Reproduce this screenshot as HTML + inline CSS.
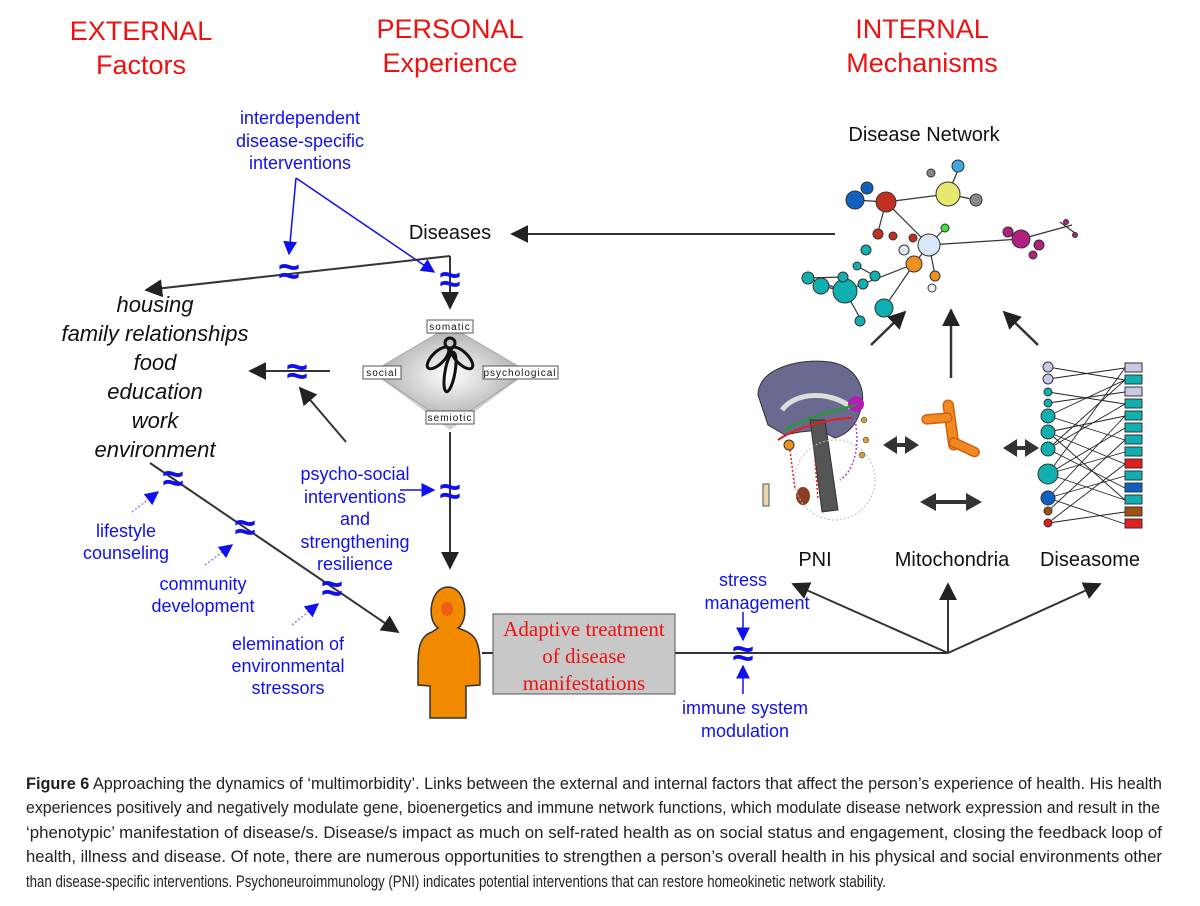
<!DOCTYPE html>
<html><head><meta charset="utf-8"><style>
html,body{margin:0;padding:0;background:#fff;}
svg{display:block;font-family:"Liberation Sans",sans-serif;}
</style></head><body>
<svg width="1200" height="906" viewBox="0 0 1200 906" xmlns="http://www.w3.org/2000/svg">
<defs>
<marker id="akb" viewBox="0 0 10 10" markerWidth="18" markerHeight="18" refX="9" refY="5" orient="auto" markerUnits="userSpaceOnUse"><path d="M0,0 L10,5 L0,10 z" fill="#222"/></marker>
<marker id="ab" viewBox="0 0 10 10" markerWidth="14" markerHeight="14" refX="9" refY="5" orient="auto" markerUnits="userSpaceOnUse"><path d="M0,0 L10,5 L0,10 z" fill="#1010ee"/></marker>
<radialGradient id="dg" cx="0.5" cy="0.5" r="0.6"><stop offset="0" stop-color="#fff"/><stop offset="1" stop-color="#999"/></radialGradient>
</defs>

<g fill="#ee1111" font-size="27" text-anchor="middle">
<text x="141" y="40">EXTERNAL</text><text x="141" y="74">Factors</text>
<text x="450" y="38">PERSONAL</text><text x="450" y="72">Experience</text>
<text x="922" y="38">INTERNAL</text><text x="922" y="72">Mechanisms</text>
</g>

<g fill="#1010ee" font-size="18" text-anchor="middle">
<text x="300" y="124">interdependent</text><text x="300" y="147">disease-specific</text><text x="300" y="169">interventions</text>
</g>
<line x1="296" y1="178" x2="289" y2="254" stroke="#1010ee" stroke-width="1.5" marker-end="url(#ab)"/>
<line x1="296" y1="178" x2="434" y2="272" stroke="#1010ee" stroke-width="1.5" marker-end="url(#ab)"/>

<text x="450" y="239" font-size="20" text-anchor="middle" fill="#111">Diseases</text>
<line x1="835" y1="234" x2="512" y2="234" stroke="#333" stroke-width="2" marker-end="url(#akb)"/>

<line x1="450" y1="256" x2="146" y2="290" stroke="#333" stroke-width="2" marker-end="url(#akb)"/>
<line x1="450" y1="256" x2="450" y2="308" stroke="#333" stroke-width="2" marker-end="url(#akb)"/>
<g fill="#1010ee" font-size="38" font-weight="bold" text-anchor="middle">
<text x="289" y="284">≈</text><text x="450" y="292">≈</text>
</g>

<polygon points="450,326 528,372 450,424 372,372" fill="url(#dg)" stroke="#aaa"/>
<polygon points="372,372 450,424 528,372 450,430" fill="#888" opacity="0.4"/>
<g fill="none" stroke="#111" stroke-width="3">
<ellipse cx="438" cy="358" rx="6" ry="14" transform="rotate(45 438 358)"/>
<ellipse cx="462" cy="358" rx="6" ry="14" transform="rotate(-45 462 358)"/>
<ellipse cx="450" cy="372" rx="5" ry="20" transform="rotate(10 450 372)"/>
<circle cx="450" cy="343" r="5"/>
</g>
<g font-size="10" letter-spacing="1" text-anchor="middle" fill="#111">
<rect x="427" y="320" width="46" height="13" fill="#fff" stroke="#555"/><text x="450" y="330">somatic</text>
<rect x="363" y="366" width="38" height="13" fill="#fff" stroke="#555"/><text x="382" y="376">social</text>
<rect x="483" y="366" width="75" height="13" fill="#fff" stroke="#555"/><text x="520" y="376">psychological</text>
<rect x="426" y="411" width="48" height="13" fill="#fff" stroke="#555"/><text x="450" y="421">semiotic</text>
</g>

<line x1="450" y1="432" x2="450" y2="568" stroke="#333" stroke-width="2" marker-end="url(#akb)"/>
<line x1="330" y1="371" x2="250" y2="371" stroke="#333" stroke-width="2" marker-end="url(#akb)"/>
<line x1="346" y1="442" x2="300" y2="388" stroke="#333" stroke-width="2" marker-end="url(#akb)"/>
<line x1="400" y1="490" x2="434" y2="490" stroke="#1010ee" stroke-width="1.5" marker-end="url(#ab)"/>
<g fill="#1010ee" font-size="38" font-weight="bold" text-anchor="middle">
<text x="297" y="384">≈</text><text x="450" y="504">≈</text>
</g>
<g fill="#1010ee" font-size="18" text-anchor="middle">
<text x="355" y="480">psycho-social</text><text x="355" y="503">interventions</text><text x="355" y="525">and</text><text x="355" y="548">strengthening</text><text x="355" y="570">resilience</text>
</g>

<g font-size="22" font-style="italic" text-anchor="middle" fill="#111">
<text x="155" y="312">housing</text><text x="155" y="341">family relationships</text><text x="155" y="370">food</text><text x="155" y="399">education</text><text x="155" y="428">work</text><text x="155" y="457">environment</text>
</g>
<line x1="150" y1="463" x2="398" y2="632" stroke="#333" stroke-width="2" marker-end="url(#akb)"/>
<g fill="#1010ee" font-size="38" font-weight="bold" text-anchor="middle">
<text x="173" y="491">≈</text><text x="245" y="540">≈</text><text x="332" y="601">≈</text>
</g>
<g stroke="#8888ff" stroke-width="1.5" stroke-dasharray="2,2">
<line x1="132" y1="512" x2="158" y2="492" marker-end="url(#ab)"/>
<line x1="205" y1="565" x2="232" y2="545" marker-end="url(#ab)"/>
<line x1="292" y1="625" x2="318" y2="604" marker-end="url(#ab)"/>
</g>
<g fill="#1010ee" font-size="18" text-anchor="middle">
<text x="126" y="537">lifestyle</text><text x="126" y="559">counseling</text>
<text x="203" y="590">community</text><text x="203" y="612">development</text>
<text x="288" y="650">elemination of</text><text x="288" y="672">environmental</text><text x="288" y="694">stressors</text>
</g>

<line x1="482" y1="653" x2="948" y2="653" stroke="#333" stroke-width="2"/>
<path d="M432,632 C420,636 418,648 418,665 L418,685 L430,686 L430,718 L466,718 L466,686 L480,685 L480,660 C479,640 474,634 463,630 L458,628 C470,620 466,587 448,587 C430,587 426,620 438,628 Z" fill="#f28a00" stroke="#333" stroke-width="1.5"/>
<ellipse cx="447" cy="609" rx="6" ry="7" fill="#f04a20" opacity="0.7"/>

<rect x="493" y="614" width="182" height="80" fill="#c8c8c8" stroke="#555" stroke-width="1"/>
<g font-family="'Liberation Serif',serif" font-size="21" fill="#ee1111" text-anchor="middle">
<text x="584" y="636">Adaptive treatment</text><text x="584" y="663">of disease</text><text x="584" y="690">manifestations</text>
</g>

<g fill="#1010ee" font-size="18" text-anchor="middle">
<text x="743" y="586">stress</text><text x="757" y="609">management</text>
<text x="745" y="714">immune system</text><text x="745" y="737">modulation</text>
</g>
<line x1="743" y1="612" x2="743" y2="640" stroke="#1010ee" stroke-width="1.5" marker-end="url(#ab)"/>
<line x1="743" y1="694" x2="743" y2="666" stroke="#1010ee" stroke-width="1.5" marker-end="url(#ab)"/>
<text x="743" y="666" fill="#1010ee" font-size="38" font-weight="bold" text-anchor="middle">≈</text>

<line x1="948" y1="653" x2="793" y2="584" stroke="#333" stroke-width="2" marker-end="url(#akb)"/>
<line x1="948" y1="653" x2="948" y2="584" stroke="#333" stroke-width="2" marker-end="url(#akb)"/>
<line x1="948" y1="653" x2="1100" y2="584" stroke="#333" stroke-width="2" marker-end="url(#akb)"/>

<g font-size="20" text-anchor="middle" fill="#111">
<text x="815" y="566">PNI</text><text x="952" y="566">Mitochondria</text><text x="1090" y="566">Diseasome</text>
<text x="924" y="141">Disease Network</text>
</g>

<!-- disease network -->
<g stroke="#333" stroke-width="1.2">
<line x1="886" y1="202" x2="948" y2="194"/><line x1="886" y1="202" x2="929" y2="245"/>
<line x1="929" y1="245" x2="1021" y2="239"/><line x1="929" y1="245" x2="914" y2="264"/>
<line x1="914" y1="264" x2="845" y2="291"/><line x1="914" y1="264" x2="884" y2="308"/>
<line x1="845" y1="291" x2="808" y2="278"/><line x1="845" y1="291" x2="821" y2="286"/>
<line x1="845" y1="291" x2="860" y2="318"/><line x1="857" y1="266" x2="875" y2="276"/>
<line x1="808" y1="278" x2="843" y2="277"/><line x1="1021" y1="239" x2="1072" y2="225"/><line x1="1060" y1="222" x2="1075" y2="233"/>
<line x1="886" y1="202" x2="855" y2="200"/><line x1="886" y1="202" x2="878" y2="232"/><line x1="948" y1="194" x2="958" y2="170"/><line x1="948" y1="194" x2="976" y2="200"/>
<line x1="929" y1="245" x2="936" y2="280"/><line x1="929" y1="245" x2="945" y2="228"/>
</g>
<g stroke="#333" stroke-width="1">
<circle cx="855" cy="200" r="9" fill="#1060c0"/><circle cx="867" cy="188" r="6" fill="#1060c0"/>
<circle cx="886" cy="202" r="10" fill="#c03020"/><circle cx="878" cy="234" r="5" fill="#c03020"/><circle cx="893" cy="236" r="4" fill="#c03020"/>
<circle cx="948" cy="194" r="12" fill="#e8e870"/><circle cx="958" cy="166" r="6" fill="#40a8e0"/><circle cx="976" cy="200" r="6" fill="#888"/><circle cx="931" cy="173" r="4" fill="#888"/>
<circle cx="929" cy="245" r="11" fill="#d8e8f8"/><circle cx="945" cy="228" r="4" fill="#40e040"/><circle cx="913" cy="238" r="4" fill="#c03020"/>
<circle cx="1021" cy="239" r="9" fill="#b02080"/><circle cx="1008" cy="232" r="5" fill="#b02080"/><circle cx="1039" cy="245" r="5" fill="#b02080"/><circle cx="1033" cy="255" r="4" fill="#b02080"/>
<circle cx="1066" cy="222" r="2.5" fill="#b02080"/><circle cx="1075" cy="235" r="2.5" fill="#b02080"/>
<circle cx="914" cy="264" r="8" fill="#f09020"/><circle cx="935" cy="276" r="5" fill="#f09020"/><circle cx="932" cy="288" r="4" fill="#e8f0f8"/><circle cx="904" cy="250" r="5" fill="#e0eef8"/>
<circle cx="845" cy="291" r="12" fill="#10b0b0"/><circle cx="821" cy="286" r="8" fill="#10b0b0"/><circle cx="808" cy="278" r="6" fill="#10b0b0"/>
<circle cx="843" cy="277" r="5" fill="#10b0b0"/><circle cx="863" cy="284" r="5" fill="#10b0b0"/><circle cx="875" cy="276" r="5" fill="#10b0b0"/>
<circle cx="857" cy="266" r="4" fill="#10b0b0"/><circle cx="866" cy="250" r="5" fill="#10b0b0"/>
<circle cx="884" cy="308" r="9" fill="#10b0b0"/><circle cx="860" cy="321" r="5" fill="#10b0b0"/>
</g>
<g stroke="#333" stroke-width="2.5">
<line x1="871" y1="345" x2="905" y2="312" marker-end="url(#akb)"/>
<line x1="951" y1="378" x2="951" y2="310" marker-end="url(#akb)"/>
<line x1="1038" y1="345" x2="1004" y2="312" marker-end="url(#akb)"/>
</g>
<g fill="#333">
<polygon points="883,445 897,436 897,443 905,443 905,436 919,445 905,454 905,447 897,447 897,454"/>
<polygon points="1003,448 1017,439 1017,446 1025,446 1025,439 1039,448 1025,457 1025,450 1017,450 1017,457"/>
<polygon points="920,502 936,493 936,500 966,500 966,493 982,502 966,511 966,504 936,504 936,511"/>
</g>

<!-- PNI brain -->
<path d="M758,395 C758,368 800,358 830,362 C858,366 868,392 860,412 C855,428 845,435 835,438 L820,430 L800,432 L785,435 L768,425 Z" fill="#6a6a90" stroke="#333"/>
<path d="M782,410 C795,392 830,390 852,408" fill="none" stroke="#ddd" stroke-width="5"/>
<path d="M810,420 L825,420 L838,510 L822,512 Z" fill="#555" stroke="#333"/>
<circle cx="856" cy="404" r="8" fill="#b020b0"/>
<path d="M778,440 C800,425 835,418 852,418" stroke="#e02020" stroke-width="2" fill="none"/>
<path d="M785,430 C805,418 835,410 856,405" stroke="#20a020" stroke-width="2" fill="none"/>
<path d="M790,450 L795,490 M815,460 L818,500" stroke="#e02020" stroke-width="1.5" stroke-dasharray="2,2"/>
<path d="M855,420 C860,445 855,470 840,480" stroke="#a040d0" stroke-width="1.5" stroke-dasharray="2,2" fill="none"/>
<circle cx="789" cy="445" r="5" fill="#f09020" stroke="#333"/>
<ellipse cx="803" cy="496" rx="7" ry="9" fill="#8a4020"/>
<rect x="763" y="484" width="6" height="22" fill="#e8d8b0" stroke="#555"/>
<circle cx="835" cy="480" r="40" fill="none" stroke="#bbb" stroke-dasharray="2,2"/>
<g fill="#d0a040" stroke="#333" stroke-width="0.5"><circle cx="864" cy="420" r="3"/><circle cx="866" cy="440" r="3"/><circle cx="862" cy="455" r="3"/></g>
<!-- mitochondria -->
<g fill="#f08a20" stroke="#d06010" stroke-width="1.5">
<rect x="946" y="400" width="10" height="50" rx="5" transform="rotate(-8 951 425)"/>
<rect x="922" y="414" width="30" height="9" rx="4.5" transform="rotate(-5 937 418)"/>
<rect x="950" y="436" width="32" height="9" rx="4.5" transform="rotate(25 950 440)"/>
</g>
<!-- diseasome -->
<g stroke="#222" stroke-width="0.9">
<line x1="1048" y1="367" x2="1125" y2="380"/><line x1="1048" y1="379" x2="1125" y2="368"/>
<line x1="1048" y1="392" x2="1125" y2="404"/><line x1="1048" y1="403" x2="1125" y2="392"/>
<line x1="1048" y1="416" x2="1125" y2="440"/><line x1="1048" y1="416" x2="1125" y2="380"/>
<line x1="1048" y1="432" x2="1125" y2="464"/><line x1="1048" y1="432" x2="1125" y2="416"/>
<line x1="1048" y1="449" x2="1125" y2="488"/><line x1="1048" y1="449" x2="1125" y2="404"/>
<line x1="1048" y1="474" x2="1125" y2="428"/><line x1="1048" y1="474" x2="1125" y2="452"/><line x1="1048" y1="474" x2="1125" y2="500"/><line x1="1048" y1="474" x2="1125" y2="368"/>
<line x1="1048" y1="498" x2="1125" y2="476"/><line x1="1048" y1="498" x2="1125" y2="524"/>
<line x1="1048" y1="511" x2="1125" y2="440"/><line x1="1048" y1="523" x2="1125" y2="512"/><line x1="1048" y1="523" x2="1125" y2="464"/>
<line x1="1048" y1="432" x2="1125" y2="500"/><line x1="1048" y1="449" x2="1125" y2="380"/><line x1="1048" y1="498" x2="1125" y2="416"/>
</g>
<g stroke="#333" stroke-width="1">
<circle cx="1048" cy="367" r="5" fill="#c8c8e8"/><circle cx="1048" cy="379" r="5" fill="#c8c8e8"/>
<circle cx="1048" cy="392" r="4" fill="#10b0b0"/><circle cx="1048" cy="403" r="4" fill="#10b0b0"/>
<circle cx="1048" cy="416" r="7" fill="#10b0b0"/><circle cx="1048" cy="432" r="7" fill="#10b0b0"/><circle cx="1048" cy="449" r="7" fill="#10b0b0"/>
<circle cx="1048" cy="474" r="10" fill="#10b0b0"/><circle cx="1048" cy="498" r="7" fill="#1060c0"/>
<circle cx="1048" cy="511" r="4" fill="#a05010"/><circle cx="1048" cy="523" r="4" fill="#e02020"/>
<rect x="1125" y="363" width="17" height="9" fill="#c8c8e8"/><rect x="1125" y="375" width="17" height="9" fill="#10b0b0"/>
<rect x="1125" y="387" width="17" height="9" fill="#c8c8e8"/><rect x="1125" y="399" width="17" height="9" fill="#10b0b0"/>
<rect x="1125" y="411" width="17" height="9" fill="#10b0b0"/><rect x="1125" y="423" width="17" height="9" fill="#10b0b0"/>
<rect x="1125" y="435" width="17" height="9" fill="#10b0b0"/><rect x="1125" y="447" width="17" height="9" fill="#10b0b0"/>
<rect x="1125" y="459" width="17" height="9" fill="#e02020"/><rect x="1125" y="471" width="17" height="9" fill="#10b0b0"/>
<rect x="1125" y="483" width="17" height="9" fill="#1060c0"/><rect x="1125" y="495" width="17" height="9" fill="#10b0b0"/>
<rect x="1125" y="507" width="17" height="9" fill="#a05010"/><rect x="1125" y="519" width="17" height="9" fill="#e02020"/>
</g>

<g font-size="16.5" fill="#222">
<text x="26" y="789" textLength="1136" lengthAdjust="spacingAndGlyphs"><tspan font-weight="bold">Figure 6</tspan>   Approaching the dynamics of ‘multimorbidity’. Links between the external and internal factors that affect the person’s experience of health. His health</text>
<text x="26" y="813" textLength="1134" lengthAdjust="spacingAndGlyphs">experiences positively and negatively modulate gene, bioenergetics and immune network functions, which modulate disease network expression and result in the</text>
<text x="26" y="838" textLength="1136" lengthAdjust="spacingAndGlyphs">‘phenotypic’ manifestation of disease/s. Disease/s impact as much on self-rated health as on social status and engagement, closing the feedback loop of</text>
<text x="26" y="862" textLength="1136" lengthAdjust="spacingAndGlyphs">health, illness and disease. Of note, there are numerous opportunities to strengthen a person’s overall health in his physical and social environments other</text>
<text x="26" y="887" textLength="860" lengthAdjust="spacingAndGlyphs">than disease-specific interventions. Psychoneuroimmunology (PNI) indicates potential interventions that can restore homeokinetic network stability.</text>
</g>
</svg>
</body></html>
